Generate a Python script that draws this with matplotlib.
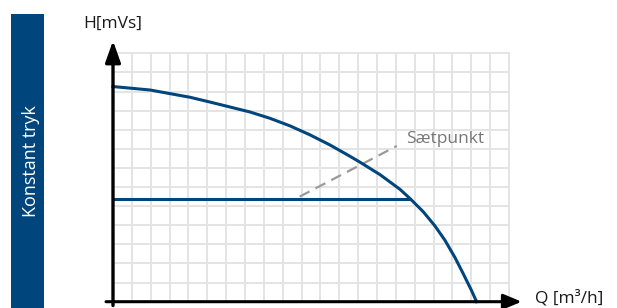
import matplotlib
matplotlib.use("Agg")
import matplotlib.pyplot as plt
from matplotlib.patches import Rectangle

plt.rcParams['font.family'] = ['Open Sans', 'DejaVu Sans']

# pump curve, in grid units (Q along x, H along y)
curve_q = [0, 1.96, 4.08, 5.14, 6.73, 7.26, 8.32, 9.39, 10.45, 11.51, 12.48, 13.10,
           14.16, 15.22, 15.75, 16.45, 17.07, 17.60, 18.13, 18.57, 19.02, 19.28]
curve_h = [11.26, 11.08, 10.70, 10.45, 10.06, 9.93, 9.60, 9.20, 8.73, 8.20, 7.66, 7.30,
           6.65, 5.88, 5.40, 4.71, 3.97, 3.22, 2.32, 1.47, 0.57, 0]

# constant pressure line and set point pointer
const_q = [0, 15.79]
const_h = [5.36, 5.36]
pointer_q = [9.9, 15.05]
pointer_h = [5.5, 8.15]

n_cols, n_rows = 21, 13
side_title = "Konstant tryk"
y_title = "H[mVs]"
x_title = "Q [m³/h]"
setpoint_label = "Sætpunkt"

blue = '#00467d'
W, H = 617, 308

fig = plt.figure(figsize=(W / 100, H / 100), dpi=100)

# side bar
fig.patches.append(Rectangle((11 / W, 0), 33 / W, 294 / H, transform=fig.transFigure,
                             facecolor=blue, edgecolor='none'))
fig.text(30.5 / W, 1 - 161 / H, side_title, rotation=90, color='white',
         fontsize=13, ha='center', va='center')

ax = fig.add_axes([113 / W, 6.3 / H, 396 / W, 248.4 / H])
ax.set_xlim(0, n_cols)
ax.set_ylim(0, n_rows)
ax.set_xticks(range(n_cols + 1))
ax.set_yticks(range(n_rows + 1))
ax.tick_params(length=0, labelbottom=False, labelleft=False)
for s in ax.spines.values():
    s.set_visible(False)
ax.grid(True, color='#e4e4e4', lw=1.4)
for gl in ax.get_xgridlines() + ax.get_ygridlines():
    gl.set_clip_on(False)
ax.set_axisbelow(True)

# axes with arrows
ax.annotate('', xy=(0, 13.66), xytext=(0, -0.2),
            arrowprops=dict(arrowstyle='-|>,head_length=0.65,head_width=0.23',
                            mutation_scale=20, lw=2.4, color='black',
                            shrinkA=0, shrinkB=0), annotation_clip=False)
ax.annotate('', xy=(21.67, 0), xytext=(-0.37, 0),
            arrowprops=dict(arrowstyle='-|>,head_length=0.55,head_width=0.23',
                            mutation_scale=20, lw=2.2, color='black',
                            shrinkA=0, shrinkB=0), annotation_clip=False)

ax.plot(pointer_q, pointer_h, color='#9a9a9a', lw=1.6, dashes=(5, 3), clip_on=False)
ax.plot(const_q, const_h, color=blue, lw=2.2, solid_capstyle='butt', clip_on=False)
ax.plot(curve_q, curve_h, color=blue, lw=2.2, clip_on=False,
        solid_joinstyle='round')

ax.text(15.53, 8.32, setpoint_label, color='#777777', fontsize=12.5,
        ha='left', va='baseline')
ax.text(-1.59, 14.31, y_title, color='#1a1a1a', fontsize=12.5,
        ha='left', va='baseline', clip_on=False)
ax.text(22.37, -0.03, x_title, color='#1a1a1a', fontsize=12.5,
        ha='left', va='baseline', clip_on=False)

fig.savefig('out.png', dpi=100)
